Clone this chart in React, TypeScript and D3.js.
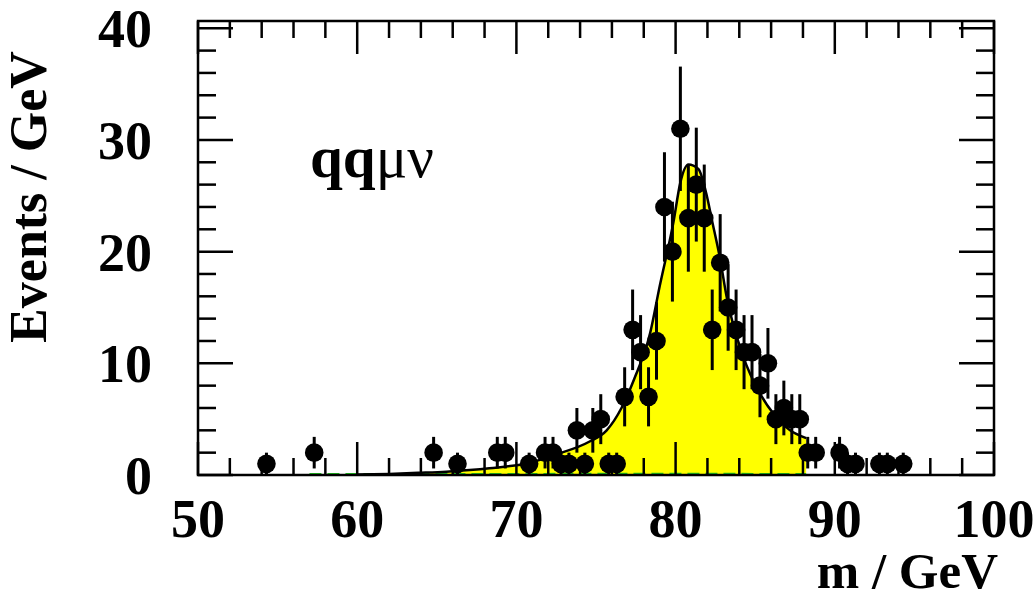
import React from "react";
import * as d3 from "d3";

// Data points: mass bin centre (GeV) and events
const massValues = [54.3, 57.3, 64.8, 66.3, 68.8, 69.3, 70.8, 71.8, 72.3, 72.8, 73.3, 73.8, 74.3, 74.8, 75.3, 75.8, 76.3, 76.8, 77.3, 77.8, 78.3, 78.8, 79.3, 79.8, 80.3, 80.8, 81.3, 81.8, 82.3, 82.8, 83.3, 83.8, 84.3, 84.8, 85.3, 85.8, 86.3, 86.8, 87.3, 87.8, 88.3, 88.8, 90.3, 90.8, 91.3, 92.8, 93.3, 94.3];
const eventCounts = [1, 2, 2, 1, 2, 2, 1, 2, 2, 1, 1, 4, 1, 4, 5, 1, 1, 7, 13, 11, 7, 12, 24, 20, 31, 23, 26, 23, 13, 19, 15, 13, 11, 11, 8, 10, 5, 6, 5, 5, 2, 2, 2, 1, 1, 1, 1, 1];

// Fitted curve
const fitMass = [60, 62, 64, 65.6, 68.3, 70.85, 72.4, 74.6, 75.67, 76.6, 77.4, 78.4, 79.0, 79.86, 80.3, 80.8, 81.43, 81.96, 82.27, 82.8, 83.2, 84.25, 85.3, 86.14, 87.19, 88.2];
const fitValue = [0.05, 0.1, 0.2, 0.3, 0.6, 1.1, 1.8, 3.0, 4.0, 6.0, 8.6, 12.7, 16.9, 22.6, 26.2, 27.8, 27.4, 25.0, 22.9, 19.3, 16.0, 10.6, 7.3, 5.5, 4.0, 3.3];

// Background curve (near zero)
const bgMass = [57, 65, 75, 82, 88.2];
const bgValue = [0.06, 0.07, 0.08, 0.08, 0.07];

const xMajorTicks = [50, 60, 70, 80, 90, 100];
const yMajorTicks = [0, 10, 20, 30, 40];

const W = 1033;
const H = 599;
const left = 198, right = 994, top = 21, bottom = 475;

export default function App() {
  const x = d3.scaleLinear().domain([50, 100]).range([left, right]);
  const y = d3.scaleLinear().domain([0, 40.65]).range([bottom, top]);
  const xMinor = x.ticks(25);
  const yMinor = y.ticks(20);

  const fitPts = fitMass.map((m, i) => [m, fitValue[i]] as [number, number]);
  const line = d3.line<[number, number]>().x(d => x(d[0])).y(d => y(d[1])).curve(d3.curveMonotoneX);
  const area = d3.area<[number, number]>().x(d => x(d[0])).y0(y(0)).y1(d => y(d[1])).curve(d3.curveMonotoneX);
  const bgPts = bgMass.map((m, i) => [m, bgValue[i]] as [number, number]);

  const font = "'Liberation Serif', 'Times New Roman', serif";
  const majX = 33, minX = 17, majY = 35, minY = 18;

  return (
    <svg width={W} height={H} style={{ position: "absolute", left: 0, top: 0, background: "#fff" }}>
      <rect x={0} y={0} width={W} height={H} fill="#fff" />
      <path d={area(fitPts) || ""} fill="#ffff00" stroke="none" />
      <path d={line(bgPts) || ""} fill="none" stroke="#22cc22" strokeWidth={2.5} strokeDasharray="12 6" />
      <path d={line(fitPts) || ""} fill="none" stroke="#000" strokeWidth={2.5} />
      {massValues.map((m, i) => {
        const n = eventCounts[i];
        const e = Math.sqrt(n);
        return (
          <line key={"e" + i} x1={x(m)} x2={x(m)} y1={y(Math.max(0, n - e))} y2={y(n + e)} stroke="#000" strokeWidth={3} />
        );
      })}
      {massValues.map((m, i) => (
        <circle key={"p" + i} cx={x(m)} cy={y(eventCounts[i])} r={9.3} fill="#000" />
      ))}
      {/* ticks */}
      {xMinor.map((t, i) => {
        const major = xMajorTicks.includes(t);
        const L = major ? majX : minX;
        return (
          <g key={"xt" + i} stroke="#000" strokeWidth={2.5}>
            <line x1={x(t)} x2={x(t)} y1={bottom} y2={bottom - L} />
            <line x1={x(t)} x2={x(t)} y1={top} y2={top + L} />
          </g>
        );
      })}
      {yMinor.map((t, i) => {
        const major = yMajorTicks.includes(t);
        const L = major ? majY : minY;
        return (
          <g key={"yt" + i} stroke="#000" strokeWidth={2.5}>
            <line x1={left} x2={left + L} y1={y(t)} y2={y(t)} />
            <line x1={right} x2={right - L} y1={y(t)} y2={y(t)} />
          </g>
        );
      })}
      <rect x={left} y={top} width={right - left} height={bottom - top} fill="none" stroke="#000" strokeWidth={2.5} />
      {/* tick labels */}
      {xMajorTicks.map((t) => (
        <text key={"xl" + t} x={x(t)} y={537} textAnchor="middle" fontFamily={font} fontWeight="bold" fontSize={54}>{t}</text>
      ))}
      {yMajorTicks.map((t) => (
        <text key={"yl" + t} x={152} y={y(t) + 19} textAnchor="end" fontFamily={font} fontWeight="bold" fontSize={54}>{t}</text>
      ))}
      <text x={998} y={588} textAnchor="end" fontFamily={font} fontWeight="bold" fontSize={51}>m / GeV</text>
      <text transform={`translate(46, 197) rotate(-90)`} textAnchor="middle" fontFamily={font} fontWeight="bold" fontSize={52}>Events / GeV</text>
      <text x={310} y={177} fontFamily={font} fontSize={59}>
        <tspan fontWeight="bold">qq</tspan><tspan>μν</tspan>
      </text>
    </svg>
  );
}
